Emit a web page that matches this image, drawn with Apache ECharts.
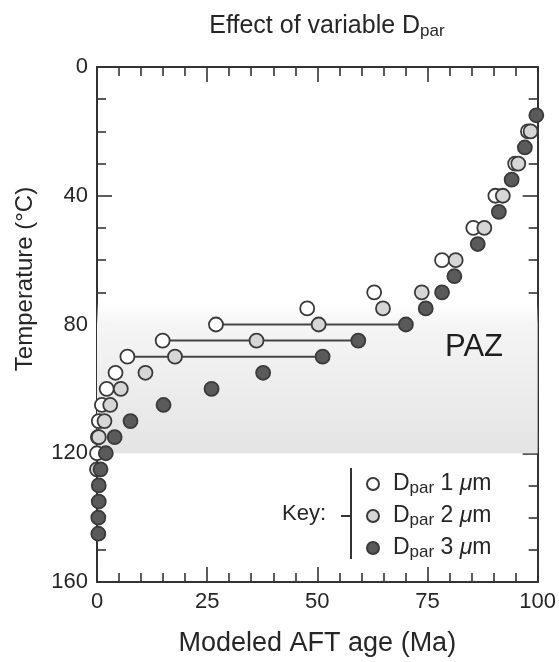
<!DOCTYPE html>
<html>
<head>
<meta charset="utf-8">
<script src="https://cdn.jsdelivr.net/npm/echarts@6/dist/echarts.min.js"></script>
<style>
html,body{margin:0;padding:0;background:#fff;}
#c{width:559px;height:662px;}
</style>
</head>
<body>
<div id="c"></div>
<script>
// ---- data ----
var temps1 = [20,30,40,50,60,70,75,80,85,90,95,100,105,110,115,120];
var ages1  = [97.8,94.9,90.4,85.4,78.3,62.9,47.7,27.0,14.9,6.9,4.2,2.2,1.1,0.4,0.2,0];
var temps2 = [20,30,40,50,60,70,75,80,85,90,95,100,105,110,115,125];
var ages2  = [98.4,95.6,92.1,87.9,81.4,73.7,64.9,50.3,36.2,17.7,11.0,5.4,3.0,1.7,0.4,0];
var temps3 = [15,25,35,45,55,65,70,75,80,85,90,95,100,105,110,115,120,125,130,135,140,145];
var ages3  = [99.7,97.1,94.1,91.2,86.4,81.1,78.3,74.6,70.1,59.3,51.2,37.7,26.0,15.1,7.6,4.0,2.0,0.8,0.4,0.4,0.3,0.3];
var rangeTemps = [80,85,90];
var pazTop = 73, pazBottom = 120;
var xTicks = [0,25,50,75,100];
var yTicks = [0,40,80,120,160];
var seriesNames = ['Dpar 1 μm','Dpar 2 μm','Dpar 3 μm'];

function pairs(ages, temps){ return ages.map(function(a,i){ return [a, temps[i]]; }); }
function ageAt(ages, temps, t){ return ages[temps.indexOf(t)]; }

var font = 'Liberation Sans, Arial, Helvetica, sans-serif';
var ink = '#262626';
var fills = ['#ffffff','#d6d6d6','#5a5a5a'];

var chart = echarts.init(document.getElementById('c'), null, {renderer:'canvas'});

function axis(extra, split){
  return Object.assign({
    type:'value',
    axisLine:{show:true, onZero:false, lineStyle:{color:'#333', width:2}},
    axisTick:{show:true, inside:true, length:15, lineStyle:{color:'#333', width:1.6}},
    minorTick:{show:true, splitNumber:split, length:9, lineStyle:{color:'#333', width:1.6}},
    splitLine:{show:false},
    minorSplitLine:{show:false}
  }, extra);
}

var rangeSeries = rangeTemps.map(function(t){
  return {
    type:'line', silent:true, z:2, symbol:'none',
    lineStyle:{color:'#444', width:2},
    data:[[ageAt(ages1,temps1,t), t],[ageAt(ages3,temps3,t), t]]
  };
});

function scatter(i, ages, temps){
  return {
    name:seriesNames[i], type:'scatter', z:3+i,
    symbol:'circle', symbolSize:14,
    itemStyle:{color:fills[i], borderColor:'#3a3a3a', borderWidth:1.8, opacity:1},
    data:pairs(ages, temps)
  };
}

var richLegend = {
  m:{fontSize:23, fontFamily:font, color:ink, lineHeight:24},
  n:{fontSize:23, fontFamily:font, color:ink, lineHeight:24},
  s:{fontSize:17, fontFamily:font, color:ink, lineHeight:24, padding:[9,0,0,0]},
  i:{fontSize:23, fontFamily:font, color:ink, fontStyle:'italic', lineHeight:24}
};

chart.setOption({
  animation:false,
  backgroundColor:'#fff',
  title:{
    text:'Effect of variable D{s|par}',
    left:322, top:8, textAlign:'center',
    textStyle:{
      fontSize:25, fontWeight:'normal', fontFamily:font, color:ink,
      rich:{
        s:{fontSize:17, fontFamily:font, color:ink, padding:[10,0,0,0]}
      }
    }
  },
  grid:{left:97, top:67, right:14, bottom:77, containLabel:false},
  xAxis:[
    axis({
      position:'bottom', min:xTicks[0], max:xTicks[xTicks.length-1], interval:25,
      axisLabel:{fontSize:22, color:ink, fontFamily:font, margin:9},
      name:'Modeled AFT age (Ma)', nameLocation:'middle', nameGap:48,
      nameTextStyle:{fontSize:27, color:ink, fontFamily:font}
    }, 5),
    axis({
      position:'top', min:xTicks[0], max:xTicks[xTicks.length-1], interval:25,
      axisLabel:{show:false}
    }, 5)
  ],
  yAxis:[
    axis({
      position:'left', inverse:true, min:yTicks[0], max:yTicks[yTicks.length-1], interval:40,
      axisLabel:{fontSize:22, color:ink, fontFamily:font, margin:9}
    }, 4),
    axis({
      position:'right', inverse:true, min:yTicks[0], max:yTicks[yTicks.length-1], interval:40,
      axisLabel:{show:false}
    }, 4)
  ],
  legend:{
    data:seriesNames,
    orient:'vertical', left:366, top:471, padding:0,
    itemWidth:30, itemHeight:12, itemGap:6,
    icon:'circle',
    formatter:function(n){
      var num = n.split(' ')[1];
      return '{m|D}{s|par}{n| ' + num + ' }{i|μ}{m|m}';
    },
    textStyle:{fontSize:23, color:ink, fontFamily:font, rich:richLegend},
    selectedMode:false
  },
  graphic:[
    {type:'text', z:100, x:25, y:279, rotation:Math.PI/2,
     style:{text:'Temperature (°C)', fill:ink, fontSize:24, fontFamily:font, textAlign:'center', textVerticalAlign:'middle'}},
    {type:'text', z:100, x:474, y:347,
     style:{text:'PAZ', fill:'#1e1e1e', fontSize:31, fontFamily:font, textAlign:'center', textVerticalAlign:'middle'}},
    {type:'line', z:100, shape:{x1:351, y1:468, x2:351, y2:559}, style:{stroke:'#333', lineWidth:2}},
    {type:'line', z:100, shape:{x1:341, y1:516, x2:351, y2:516}, style:{stroke:'#333', lineWidth:2}},
    {type:'text', z:100, x:326, y:514, style:{text:'Key:', fill:ink, fontSize:22, fontFamily:font, textAlign:'right', textVerticalAlign:'middle'}}
  ],
  series:[
    {
      type:'line', data:[], silent:true, z:1,
      markArea:{
        silent:true,
        label:{show:false},
        itemStyle:{
          color:new echarts.graphic.LinearGradient(0,0,0,1,[
            {offset:0, color:'rgba(245,245,245,0)'},
            {offset:0.15, color:'#f5f5f5'},
            {offset:1, color:'#e4e4e4'}
          ])
        },
        data:[[{yAxis:pazTop, xAxis:0},{yAxis:pazBottom, xAxis:100}]]
      }
    }
  ].concat(rangeSeries).concat([
    scatter(0, ages1, temps1),
    scatter(1, ages2, temps2),
    scatter(2, ages3, temps3)
  ])
});
</script>
</body>
</html>
